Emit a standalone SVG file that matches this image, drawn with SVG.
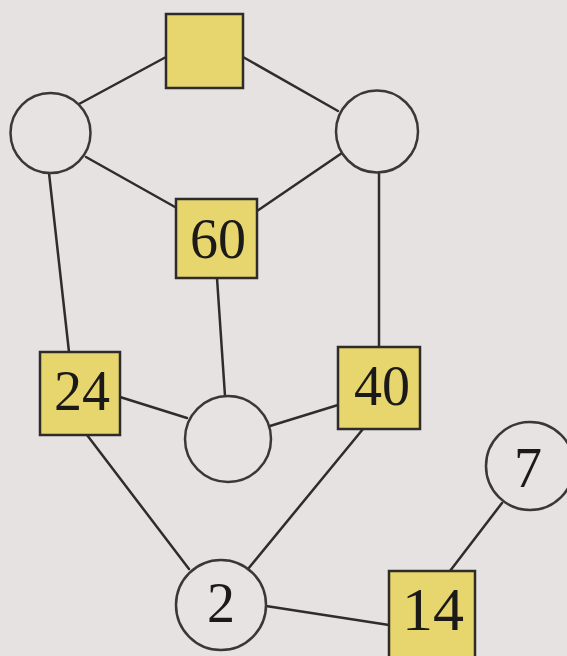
<svg xmlns="http://www.w3.org/2000/svg" width="567" height="656" viewBox="0 0 567 656">
<style>
.bg{fill:#e5e2e1}
.sq{fill:#e7d66d;stroke:#2e2b28;stroke-width:2.5}
.ci{fill:#e6e3e2;stroke:#3a3836;stroke-width:2.5}
.ed{stroke:#2f2d2b;stroke-width:2.5;fill:none;stroke-linecap:round}
.lb{font-family:"Liberation Serif","DejaVu Serif",serif;font-size:56px;fill:#1c1a18;text-anchor:middle}
</style>
<rect class="bg" x="0" y="0" width="567" height="656"/>
<g id="connectors">
<line class="ed" x1="79" y1="104" x2="166" y2="57"/>
<line class="ed" x1="243" y1="57" x2="338" y2="111"/>
<line class="ed" x1="86" y1="157" x2="175" y2="207"/>
<line class="ed" x1="342" y1="153" x2="257" y2="211"/>
<line class="ed" x1="49" y1="173" x2="69" y2="352"/>
<line class="ed" x1="217" y1="278" x2="225" y2="396"/>
<line class="ed" x1="379" y1="172" x2="379" y2="347"/>
<line class="ed" x1="120" y1="397" x2="187" y2="418"/>
<line class="ed" x1="338" y1="405" x2="270" y2="426"/>
<line class="ed" x1="87" y1="435" x2="189" y2="569"/>
<line class="ed" x1="363" y1="429" x2="248" y2="569"/>
<line class="ed" x1="266" y1="606" x2="389" y2="625"/>
<line class="ed" x1="502" y1="503" x2="450" y2="571"/>
</g>
<g id="n_top"><rect class="sq" x="166" y="14" width="77" height="74"/></g>
<g id="n_left"><circle class="ci" cx="50.5" cy="133" r="40"/></g>
<g id="n_right"><circle class="ci" cx="377" cy="131.5" r="41"/></g>
<g id="n_60"><rect class="sq" x="176" y="199" width="81" height="79"/><text class="lb" x="218" y="258">60</text></g>
<g id="n_24"><rect class="sq" x="40" y="352" width="80" height="83"/><text class="lb" x="82" y="410">24</text></g>
<g id="n_mid"><circle class="ci" cx="228" cy="439" r="43"/></g>
<g id="n_40"><rect class="sq" x="338" y="347" width="82" height="82"/><text class="lb" x="382" y="405">40</text></g>
<g id="n_7"><circle class="ci" cx="530" cy="466" r="44"/><text class="lb" x="528" y="487">7</text></g>
<g id="n_2"><circle class="ci" cx="221" cy="605" r="45"/><text class="lb" x="221" y="622">2</text></g>
<g id="n_14"><rect class="sq" x="389" y="571" width="86" height="92"/><text class="lb" x="433" y="630" style="font-size:62px">14</text></g>
</svg>
